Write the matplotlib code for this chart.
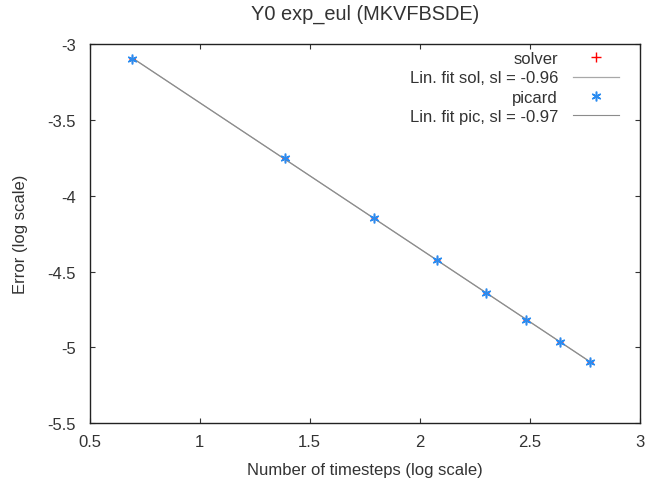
import numpy as np
import matplotlib
matplotlib.use('Agg')
from matplotlib import pyplot as plt

# log of number of timesteps (2, 4, ..., 16)
log_n = np.log([2, 4, 6, 8, 10, 12, 14, 16])
# log errors (solver points sit under the picard points)
err_solver = [-3.099, -3.750, -4.145, -4.420, -4.638, -4.816, -4.966, -5.098]
err_picard = [-3.099, -3.750, -4.145, -4.420, -4.638, -4.816, -4.967, -5.099]
labels = ['solver', 'Lin. fit sol, sl = -0.96', 'picard', 'Lin. fit pic, sl = -0.97']
xticks = [0.5, 1, 1.5, 2, 2.5, 3]
yticks = [-3, -3.5, -4, -4.5, -5, -5.5]

plt.rcParams['font.family'] = ['Liberation Sans', 'DejaVu Sans']
plt.rcParams['font.size'] = 12

fig = plt.figure(figsize=(6.46, 4.81), dpi=100)
ax = fig.add_axes([0.139, 0.118, 0.851, 0.788])

p_sol = np.polyfit(log_n, err_solver, 1)
p_pic = np.polyfit(log_n, err_picard, 1)

ax.plot(log_n, err_solver, '+', color='red', ms=5, mew=1.0, label=labels[0], zorder=3)
ax.plot(log_n, np.polyval(p_sol, log_n), '-', color='#a8a8a8', lw=0.9, label=labels[1], zorder=2)
ax.plot(log_n, err_picard, linestyle='none', marker=(6, 2, 0), color='#2b8cf0', ms=7, mew=1.1,
        label=labels[2], zorder=4)
ax.plot(log_n, np.polyval(p_pic, log_n), '-', color='#8c8c8c', lw=0.8, label=labels[3], zorder=2)

ax.set_xlim(0.5, 3)
ax.set_ylim(-5.5, -3)
ax.set_xticks(xticks)
ax.set_xticklabels(['0.5', '1', '1.5', '2', '2.5', '3'])
ax.set_yticks(yticks)
ax.set_yticklabels(['-3', '-3.5', '-4', '-4.5', '-5', '-5.5'])
ax.tick_params(direction='in', top=True, right=True, length=3.5, width=0.8, colors='#333333')
ax.tick_params(axis='x', pad=8)
ax.tick_params(axis='y', pad=10)
for s in ax.spines.values():
    s.set_color('#222222')
    s.set_linewidth(1.0)

ax.set_xlabel('Number of timesteps (log scale)', color='#333333', labelpad=9)
ax.set_ylabel('Error (log scale)', color='#333333', labelpad=14)
ax.set_title('Y0 exp_eul (MKVFBSDE)', color='#333333', pad=18)

leg = ax.legend(loc='upper right', frameon=False, markerfirst=False, handlelength=2.75,
                labelspacing=0.26, borderaxespad=0, borderpad=0, handletextpad=0.9,
                bbox_to_anchor=(619 / 646, 1 - 52 / 481), bbox_transform=fig.transFigure)
leg.legend_handles[0].set_markersize(6.5)
for t in leg.get_texts():
    t.set_color('#333333')

fig.savefig('out.png', dpi=100)
